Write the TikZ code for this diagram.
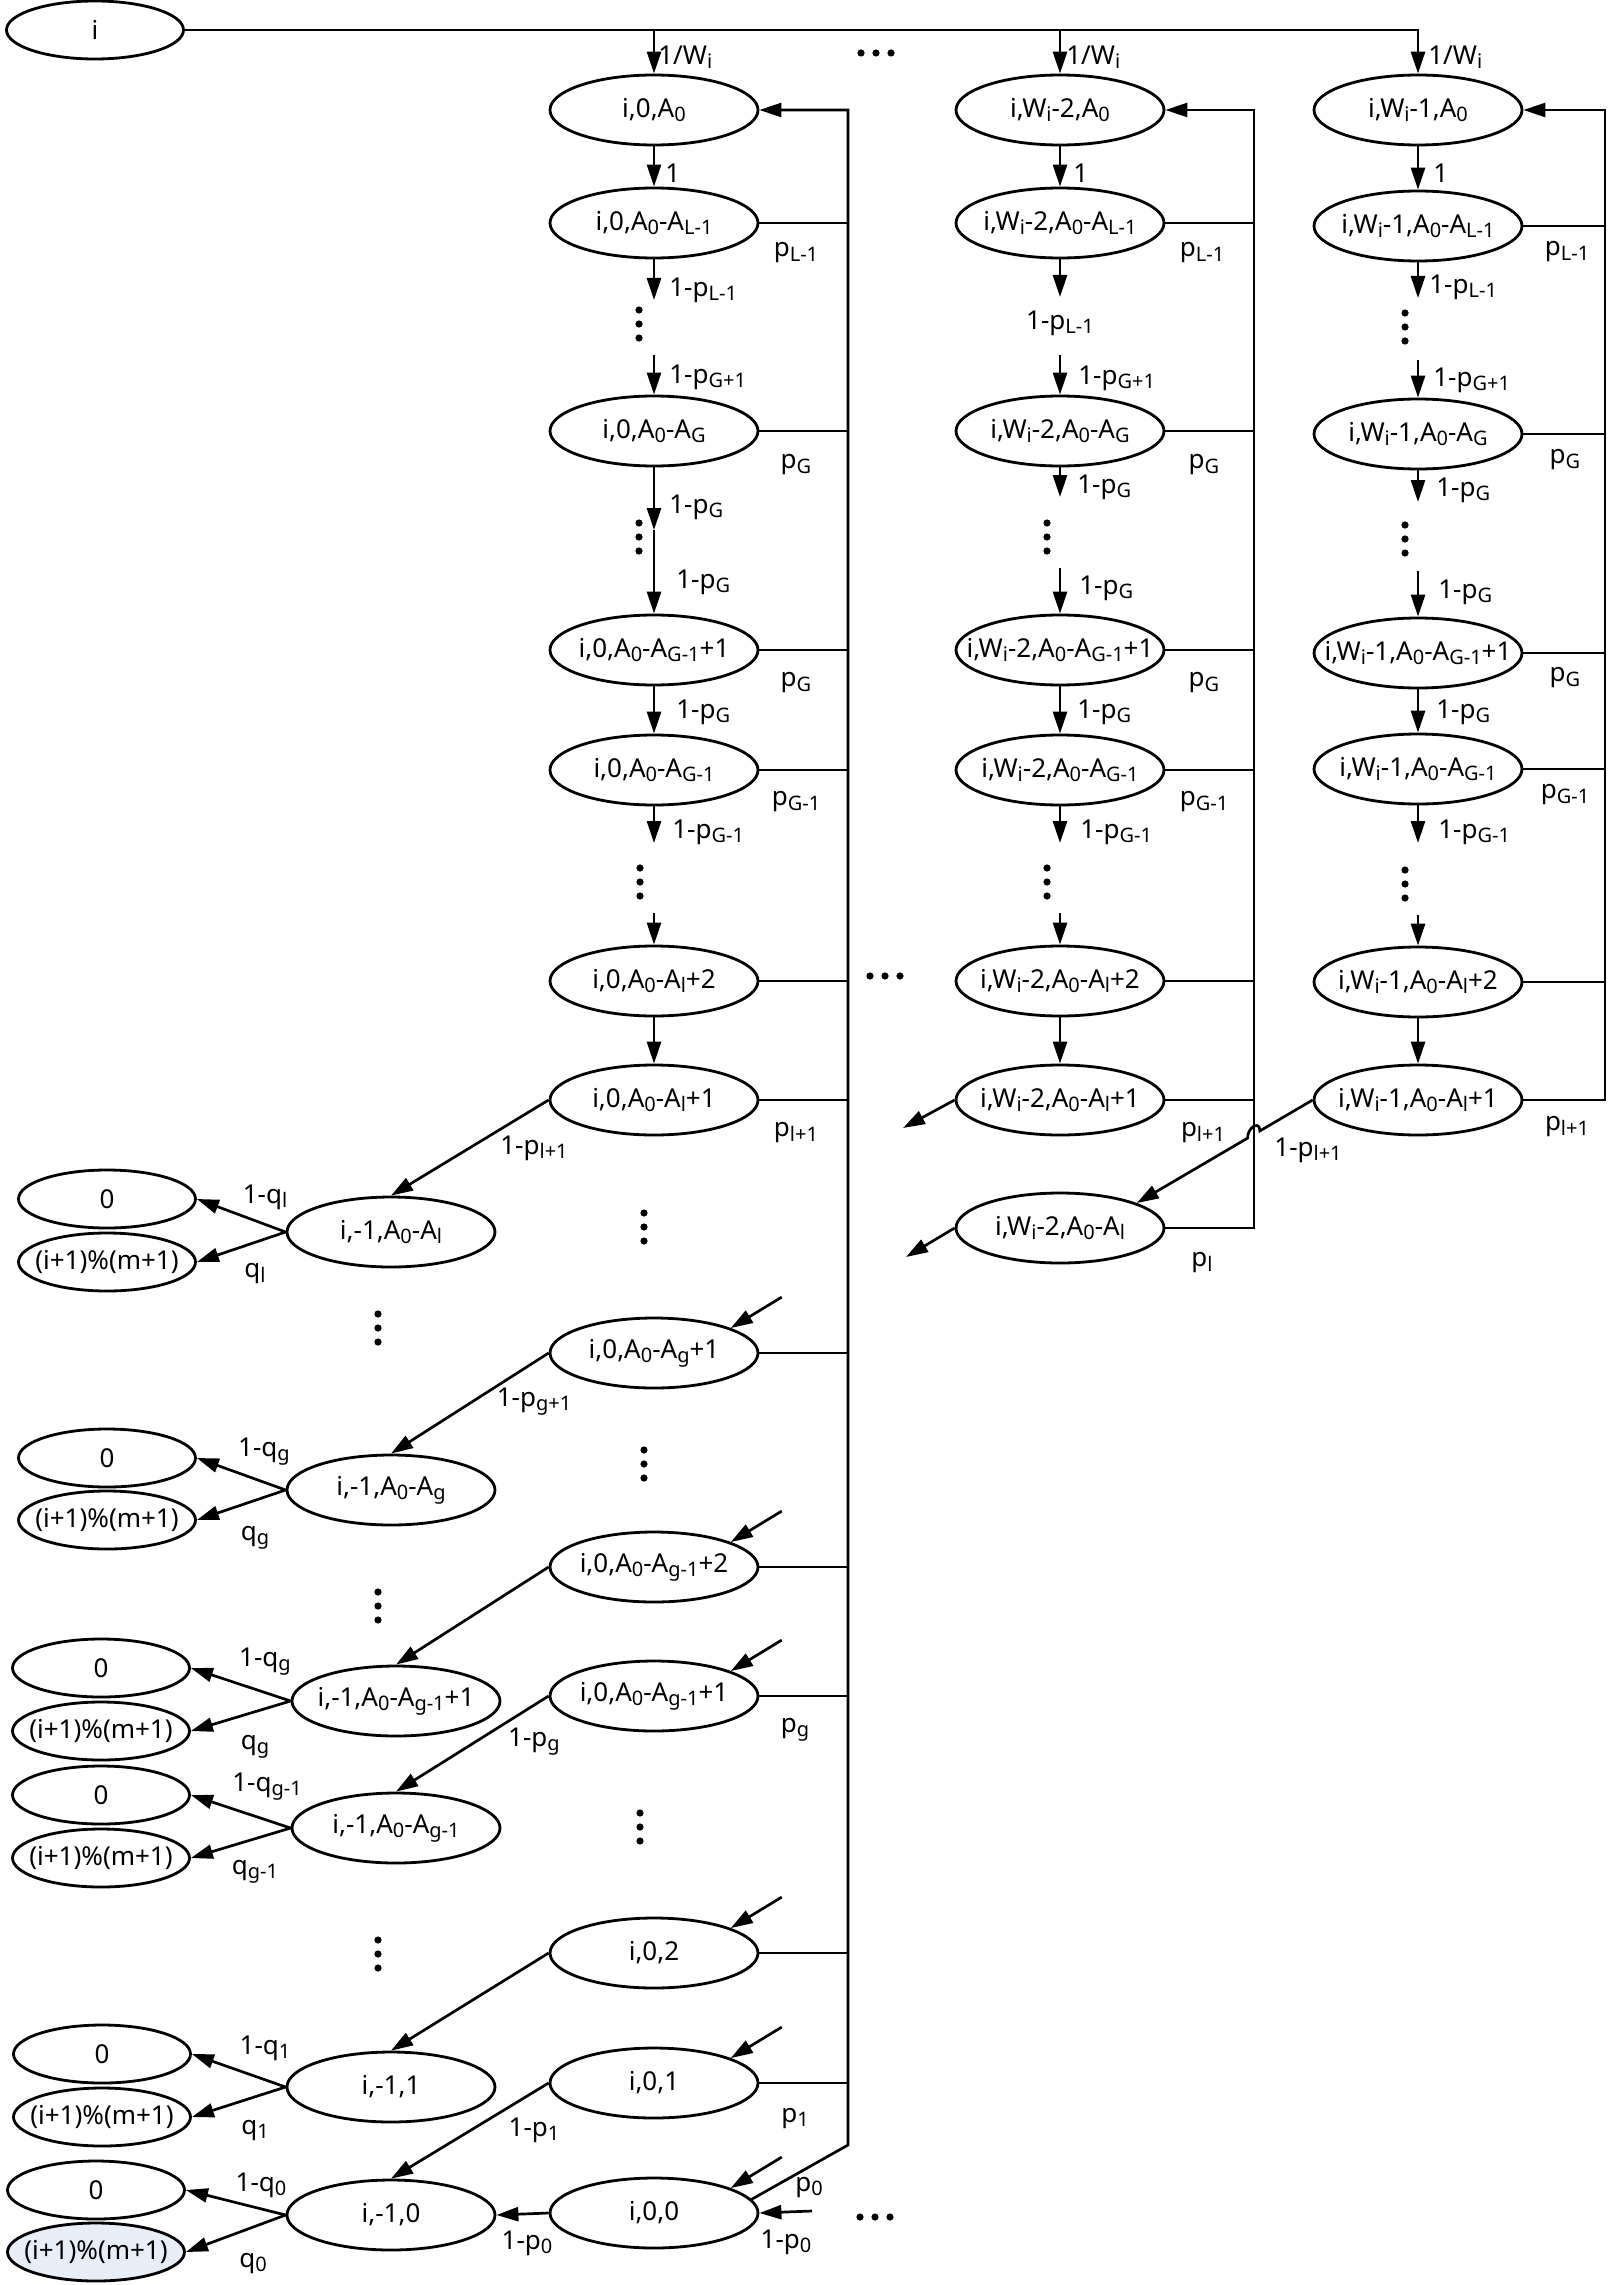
\documentclass[tikz,border=0pt]{standalone}
\usepackage{fontspec}
\setmainfont{Noto Sans}
\usetikzlibrary{arrows.meta,positioning,calc,shapes.geometric}
\definecolor{paleBlue}{RGB}{232,238,248}
\newcommand{\lo}[1]{\raisebox{-0.3ex}{\fontsize{10}{10}\selectfont #1}}

\begin{document}
\begin{tikzpicture}[x=0.5pt,y=-0.5pt,
    font=\fontsize{13}{15}\selectfont,
    line width=1.35pt,
    st/.style={ellipse,draw,line width=1.4pt,minimum width=104pt,minimum height=35pt,
      inner xsep=-16pt,inner ysep=2pt},
    sm/.style={st,minimum width=88.5pt,minimum height=29pt},
    arr/.style={-{Triangle[length=11pt,width=7pt]}},
    lab/.style={inner sep=0pt},
    wl/.style={lab,anchor=west}]
  \useasboundingbox (0,0) rectangle (1607,2285);

  \node[sm] (i) at (95,30) {i};

  \node[st] (a0)   at (654,110)  {i,0,A\lo{0}};
  \node[st] (aL)   at (654,223)  {i,0,A\lo{0}-A\lo{L-1}};
  \node[st] (aG)   at (654,431)  {i,0,A\lo{0}-A\lo{G}};
  \node[st] (aG1p) at (654,650)  {i,0,A\lo{0}-A\lo{G-1}+1};
  \node[st] (aG1)  at (654,770)  {i,0,A\lo{0}-A\lo{G-1}};
  \node[st] (al2)  at (654,981)  {i,0,A\lo{0}-A\lo{l}+2};
  \node[st] (al1)  at (654,1100) {i,0,A\lo{0}-A\lo{l}+1};
  \node[st] (ag1)  at (654,1353) {i,0,A\lo{0}-A\lo{g}+1};
  \node[st] (ah2)  at (654,1567) {i,0,A\lo{0}-A\lo{g-1}+2};
  \node[st] (ah1)  at (654,1696) {i,0,A\lo{0}-A\lo{g-1}+1};
  \node[st] (b2)   at (654,1953) {i,0,2};
  \node[st] (b1)   at (654,2083) {i,0,1};
  \node[st] (b0)   at (654,2213) {i,0,0};

  \node[st] (va0)   at (1060,110)  {i,W\lo{i}-2,A\lo{0}};
  \node[st] (vaL)   at (1060,223)  {i,W\lo{i}-2,A\lo{0}-A\lo{L-1}};
  \node[st] (vaG)   at (1060,431)  {i,W\lo{i}-2,A\lo{0}-A\lo{G}};
  \node[st] (vaG1p) at (1060,650)  {i,W\lo{i}-2,A\lo{0}-A\lo{G-1}+1};
  \node[st] (vaG1)  at (1060,770)  {i,W\lo{i}-2,A\lo{0}-A\lo{G-1}};
  \node[st] (val2)  at (1060,981)  {i,W\lo{i}-2,A\lo{0}-A\lo{l}+2};
  \node[st] (val1)  at (1060,1100) {i,W\lo{i}-2,A\lo{0}-A\lo{l}+1};
  \node[st] (val0)  at (1060,1228) {i,W\lo{i}-2,A\lo{0}-A\lo{l}};

  \node[st] (wa0)   at (1418,110)  {i,W\lo{i}-1,A\lo{0}};
  \node[st] (waL)   at (1418,226)  {i,W\lo{i}-1,A\lo{0}-A\lo{L-1}};
  \node[st] (waG)   at (1418,434)  {i,W\lo{i}-1,A\lo{0}-A\lo{G}};
  \node[st] (waG1p) at (1418,653)  {i,W\lo{i}-1,A\lo{0}-A\lo{G-1}+1};
  \node[st] (waG1)  at (1418,769)  {i,W\lo{i}-1,A\lo{0}-A\lo{G-1}};
  \node[st] (wal2)  at (1418,982)  {i,W\lo{i}-1,A\lo{0}-A\lo{l}+2};
  \node[st] (wal1)  at (1418,1100) {i,W\lo{i}-1,A\lo{0}-A\lo{l}+1};

  \node[st] (el)  at (391,1232) {i,-1,A\lo{0}-A\lo{l}};
  \node[st] (eg)  at (391,1490) {i,-1,A\lo{0}-A\lo{g}};
  \node[st] (eh1) at (396,1701) {i,-1,A\lo{0}-A\lo{g-1}+1};
  \node[st] (eh0) at (396,1828) {i,-1,A\lo{0}-A\lo{g-1}};
  \node[st] (e1)  at (391,2087) {i,-1,1};
  \node[st] (e0)  at (391,2215) {i,-1,0};

  \node[sm] (zl)  at (107,1199) {0};
  \node[sm] (rl)  at (107,1262) {(i+1)\%(m+1)};
  \node[sm] (zg)  at (107,1458) {0};
  \node[sm] (rg)  at (107,1520) {(i+1)\%(m+1)};
  \node[sm] (zh1) at (101,1668) {0};
  \node[sm] (rh1) at (101,1731) {(i+1)\%(m+1)};
  \node[sm] (zh0) at (101,1795) {0};
  \node[sm] (rh0) at (101,1858) {(i+1)\%(m+1)};
  \node[sm] (z1)  at (102,2054) {0};
  \node[sm] (r1)  at (102,2117) {(i+1)\%(m+1)};
  \node[sm] (z0)  at (96,2190)  {0};
  \node[sm,fill=paleBlue] (r0) at (96,2252) {(i+1)\%(m+1)};

  \coordinate (f1) at (848,2145);
  \coordinate (f2) at (1254,0);
  \coordinate (f3) at (1605,0);
  \coordinate (c1a) at (654,300);
  \coordinate (c1b) at (654,355);
  \coordinate (c1c) at (654,530);
  \coordinate (c1d) at (654,843);
  \coordinate (c1e) at (654,913);
  \coordinate (c2a) at (1060,297);
  \coordinate (c2b) at (1060,355);
  \coordinate (c2c) at (1060,497);
  \coordinate (c2d) at (1060,568);
  \coordinate (c2e) at (1060,843);
  \coordinate (c2f) at (1060,913);
  \coordinate (c2g) at (903,1128);
  \coordinate (c2h) at (906,1257);
  \coordinate (c3a) at (1418,298);
  \coordinate (c3b) at (1418,360);
  \coordinate (c3c) at (1418,502);
  \coordinate (c3d) at (1418,571);
  \coordinate (c3e) at (1418,843);
  \coordinate (c3f) at (1418,915);
  \coordinate (b0in) at (812,2211);

  \draw[arr] (i.east) -| (wa0.north);
  \draw[arr] (i.east -| a0.north) -- (a0.north);
  \draw[arr] (i.east -| va0.north) -- (va0.north);
  \node[wl] at (657,57) {1/W\lo{i}};
  \node[wl] at (1065,57) {1/W\lo{i}};
  \node[wl] at (1427,57) {1/W\lo{i}};

  \draw[arr] (a0) -- (aL);
  \draw[arr] (aL) -- (c1a);
  \draw[arr] (c1b) -- (aG);
  \draw[arr] (aG) -- (c1c);
  \draw[arr] (c1c) -- (aG1p);
  \draw[arr] (aG1p) -- (aG1);
  \draw[arr] (aG1) -- (c1d);
  \draw[arr] (c1e) -- (al2);
  \draw[arr] (al2) -- (al1);
  \node[wl] at (664,173) {1};
  \node[wl] at (668,290) {1-p\lo{L-1}};
  \node[wl] at (668,377) {1-p\lo{G+1}};
  \node[wl] at (668,507) {1-p\lo{G}};
  \node[wl] at (675,582) {1-p\lo{G}};
  \node[wl] at (675,712) {1-p\lo{G}};
  \node[wl] at (671,832) {1-p\lo{G-1}};

  \draw[arr] (va0) -- (vaL);
  \draw[arr] (vaL) -- (c2a);
  \draw[arr] (c2b) -- (vaG);
  \draw[arr] (vaG) -- (c2c);
  \draw[arr] (c2d) -- (vaG1p);
  \draw[arr] (vaG1p) -- (vaG1);
  \draw[arr] (vaG1) -- (c2e);
  \draw[arr] (c2f) -- (val2);
  \draw[arr] (val2) -- (val1);
  \draw[arr] (val1.west) -- (c2g);
  \draw[arr] (val0.west) -- (c2h);
  \node[wl] at (1072,173) {1};
  \node[lab] at (1060,323) {1-p\lo{L-1}};
  \node[wl] at (1077,378) {1-p\lo{G+1}};
  \node[wl] at (1076,487) {1-p\lo{G}};
  \node[wl] at (1078,588) {1-p\lo{G}};
  \node[wl] at (1076,712) {1-p\lo{G}};
  \node[wl] at (1079,832) {1-p\lo{G-1}};

  \draw[arr] (wa0) -- (waL);
  \draw[arr] (waL) -- (c3a);
  \draw[arr] (c3b) -- (waG);
  \draw[arr] (waG) -- (c3c);
  \draw[arr] (c3d) -- (waG1p);
  \draw[arr] (waG1p) -- (waG1);
  \draw[arr] (waG1) -- (c3e);
  \draw[arr] (c3f) -- (wal2);
  \draw[arr] (wal2) -- (wal1);
  \node[wl] at (1432,173) {1};
  \node[wl] at (1428,287) {1-p\lo{L-1}};
  \node[wl] at (1432,380) {1-p\lo{G+1}};
  \node[wl] at (1435,490) {1-p\lo{G}};
  \node[wl] at (1437,592) {1-p\lo{G}};
  \node[wl] at (1435,712) {1-p\lo{G}};
  \node[wl] at (1437,832) {1-p\lo{G-1}};

  \draw[arr] (b0.8) -- (f1) -- (f1 |- a0.east) -- (a0.east);
  \foreach \n in {aL,aG,aG1p,aG1,al2,al1,ag1,ah2,ah1,b2,b1}
    \draw (\n.east) -- (\n.east -| f1);
  \draw[arr] (val0.east) -| (va0.east -| f2) -- (va0.east);
  \foreach \n in {vaL,vaG,vaG1p,vaG1,val2,val1}
    \draw (\n.east) -- (\n.east -| f2);
  \draw[arr] (wal1.east) -| (wa0.east -| f3) -- (wa0.east);
  \foreach \n in {waL,waG,waG1p,waG1,wal2}
    \draw (\n.east) -- (\n.east -| f3);

  \draw[arr] (wal1.west) -- ($(wal1.west)!0.30!(val0.18)$)
    .. controls +(0,-11) and +(0,-11) .. ($(wal1.west)!0.37!(val0.18)$) -- (val0.18);
  \node[lab] at (1308,1150) {1-p\lo{l+1}};

  \foreach \n in {ag1,ah2,ah1,b2,b1,b0}
    \draw[arr] ($(\n.18)+(51,-31)$) coordinate (\n-in) -- (\n.18);
  \draw[arr] (b0in) -- (b0.east);
  \draw[arr] (b0.west) -- (e0.east);

  \draw[arr] (al1.west) -- (el.north);
  \draw[arr] (ag1.west) -- (eg.north);
  \draw[arr] (ah2.west) -- (eh1.north);
  \draw[arr] (ah1.west) -- (eh0.north);
  \draw[arr] (b2.west) -- (e1.north);
  \draw[arr] (b1.west) -- (e0.north);
  \foreach \e/\z/\r in {el/zl/rl,eg/zg/rg,eh1/zh1/rh1,eh0/zh0/rh0,e1/z1/r1,e0/z0/r0} {
    \draw[arr] (\e.west) -- (\z.east);
    \draw[arr] (\e.west) -- (\r.east);
  }

  \foreach \x/\y/\t in {796/253/L-1,796/465/G,796/683/G,796/802/G-1,796/1133/l+1,795/1730/g,795/2118/1,809/2187/0,
      1202/253/L-1,1204/465/G,1204/683/G,1204/802/G-1,1203/1133/l+1,1202/1263/l,
      1567/252/L-1,1565/460/G,1565/678/G,1565/795/G-1,1567/1127/l+1}
    \node[lab] at (\x,\y) {p\lo{\t}};
  \foreach \x/\y/\t in {534/1148/l+1,534/1402/g+1,534/1742/g,534/2130/1,527/2243/0,786/2242/0}
    \node[lab] at (\x,\y) {1-p\lo{\t}};
  \foreach \x/\y/\t in {265/1197/l,264/1452/g,265/1662/g,267/1787/g-1,265/2048/1,261/2185/0}
    \node[lab] at (\x,\y) {1-q\lo{\t}};
  \foreach \x/\y/\t in {255/1274/l,255/1538/g,255/1747/g,255/1872/g-1,255/2130/1,253/2263/0}
    \node[lab] at (\x,\y) {q\lo{\t}};

  \foreach \x/\y in {639/324,639/537,640/882,644/1227,644/1464,640/1827,1047/537,1047/882,
      1405/327,1405/539,1405/884,378/1328,378/1606,378/1954}
    \foreach \k in {-14,0,14}
      \fill (\x,\y+\k) circle (3.6);
  \foreach \x/\y in {876/53,885/976,875/2217}
    \foreach \k in {-15,0,15}
      \fill (\x+\k,\y) circle (3.6);
\end{tikzpicture}
\end{document}
